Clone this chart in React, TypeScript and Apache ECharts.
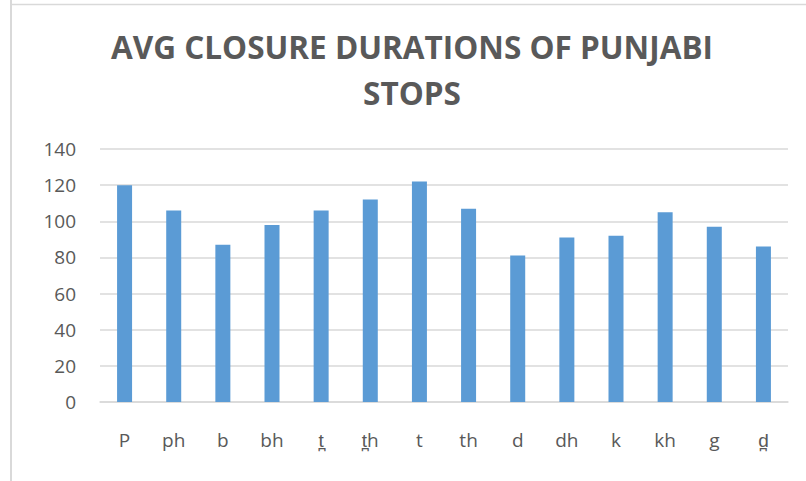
import React, { useEffect, useRef } from "react";
import * as echarts from "echarts";

const categories = ["P", "ph", "b", "bh", "t\u032A", "t\u032Ah", "t", "th", "d", "dh", "k", "kh", "g", "d\u032A"];
const durations = [120, 106, 87, 98, 106, 112, 122, 107, 81, 91, 92, 105, 97, 86];
const yTicks = { min: 0, max: 140, interval: 20 };
const titleLines = ["AVG CLOSURE DURATIONS OF PUNJABI", "STOPS"];

export default function App() {
  const ref = useRef<HTMLDivElement>(null);
  useEffect(() => {
    if (!ref.current) return;
    const chart = echarts.init(ref.current, null, { renderer: "svg" });
    const font = "'Open Sans', sans-serif";
    chart.setOption({
      animation: false,
      backgroundColor: "#ffffff",
      graphic: [
        { type: "line", shape: { x1: 11, y1: 0, x2: 11, y2: 481 }, style: { stroke: "#d9d9d9", lineWidth: 2 } },
        { type: "line", shape: { x1: 10, y1: 4.5, x2: 806, y2: 4.5 }, style: { stroke: "#d9d9d9", lineWidth: 1.5 } },
        {
          type: "text", x: 412, y: 62, style: {
            text: titleLines[0], fill: "#595959", font: `bold 31.5px ${font}`,
            textAlign: "center", textVerticalAlign: "bottom",
          },
        },
        {
          type: "text", x: 412, y: 108, style: {
            text: titleLines[1], fill: "#595959", font: `bold 31.5px ${font}`,
            textAlign: "center", textVerticalAlign: "bottom",
          },
        },
      ],
      grid: { left: 100, right: 18, top: 149, bottom: 79, containLabel: false },
      xAxis: {
        type: "category",
        data: categories,
        axisLine: { lineStyle: { color: "#d9d9d9", width: 1.5 } },
        axisTick: { show: false },
        axisLabel: { color: "#595959", fontSize: 19, fontFamily: font, margin: 28 },
      },
      yAxis: {
        type: "value",
        min: yTicks.min,
        max: yTicks.max,
        interval: yTicks.interval,
        axisLine: { show: false },
        axisTick: { show: false },
        splitLine: { lineStyle: { color: "#d9d9d9", width: 1.5 } },
        axisLabel: { color: "#595959", fontSize: 19, fontFamily: font, margin: 24 },
      },
      series: [
        {
          type: "bar",
          data: durations,
          barWidth: 15,
          itemStyle: { color: "#5b9bd5" },
        },
      ],
    });
    return () => chart.dispose();
  }, []);
  return <div ref={ref} style={{ width: 806, height: 481, position: "absolute", left: 0, top: 0 }} />;
}
